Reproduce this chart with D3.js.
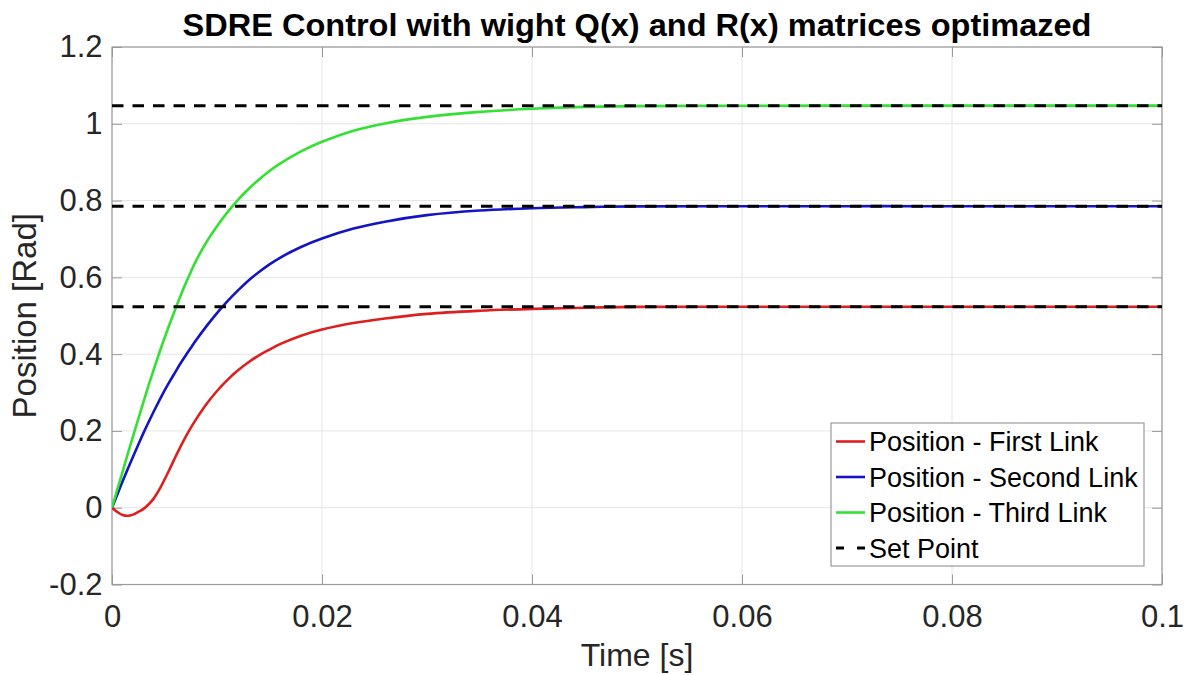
<!DOCTYPE html>
<html>
<head>
<meta charset="utf-8">
<script src="https://cdn.jsdelivr.net/npm/d3@7"></script>
<style>
  body { margin: 0; background: #fff; }
  svg { display: block; font-family: "Liberation Sans", Arial, Helvetica, sans-serif; }
</style>
</head>
<body>
<svg id="chart" width="1192" height="675"></svg>
<script>
// ---- data ----
const time = [0, 0.0005, 0.001, 0.0015, 0.002, 0.0025, 0.003, 0.0035, 0.004, 0.0045, 0.005, 0.0055, 0.006, 0.0065, 0.007, 0.0075, 0.008, 0.009, 0.010, 0.011, 0.012, 0.013, 0.014, 0.015, 0.016, 0.018, 0.020, 0.023, 0.026, 0.030, 0.035, 0.040, 0.045, 0.050, 0.060, 0.070, 0.080, 0.090, 0.100];
const firstLink  = [0, -0.011, -0.019, -0.021, -0.018, -0.011, -0.003, 0.009, 0.025, 0.047, 0.073, 0.101, 0.130, 0.158, 0.184, 0.208, 0.230, 0.270, 0.304, 0.333, 0.358, 0.379, 0.397, 0.412, 0.426, 0.448, 0.464, 0.481, 0.493, 0.505, 0.513, 0.518, 0.521, 0.523, 0.5235, 0.5236, 0.5236, 0.5236, 0.5236];
const secondLink = [0, 0.034, 0.068, 0.101, 0.133, 0.164, 0.195, 0.224, 0.252, 0.279, 0.305, 0.329, 0.352, 0.375, 0.396, 0.416, 0.436, 0.473, 0.507, 0.538, 0.566, 0.592, 0.614, 0.634, 0.651, 0.679, 0.701, 0.727, 0.745, 0.762, 0.774, 0.780, 0.783, 0.785, 0.7853, 0.7854, 0.7854, 0.7854, 0.7854];
const thirdLink  = [0, 0.047, 0.093, 0.140, 0.186, 0.231, 0.276, 0.320, 0.362, 0.403, 0.442, 0.479, 0.515, 0.550, 0.583, 0.614, 0.643, 0.692, 0.733, 0.770, 0.802, 0.830, 0.855, 0.877, 0.896, 0.928, 0.953, 0.982, 1.001, 1.018, 1.031, 1.039, 1.044, 1.046, 1.047, 1.0472, 1.0472, 1.0472, 1.0472];
const setPoints = [0.5236, 0.7854, 1.0472];
const seriesNames = ["Position - First Link", "Position - Second Link", "Position - Third Link"];
const setPointName = "Set Point";
const xTicks = [0, 0.02, 0.04, 0.06, 0.08, 0.1];
const xTickLabels = ["0", "0.02", "0.04", "0.06", "0.08", "0.1"];
const yTicks = [-0.2, 0, 0.2, 0.4, 0.6, 0.8, 1.0, 1.2];
const yTickLabels = ["-0.2", "0", "0.2", "0.4", "0.6", "0.8", "1", "1.2"];
const titleText = "SDRE Control with wight Q(x) and R(x) matrices optimazed";
const xLabelText = "Time [s]";
const yLabelText = "Position [Rad]";

// ---- layout ----
const svg = d3.select("#chart");
const L = 112, R = 1162, T = 47, B = 584.5;
const W = R - L, H = B - T;
const colors = ["#dd1f1f", "#1414c4", "#33e033"];

const x = d3.scaleLinear().domain([0, 0.1]).range([L, R]);
const y = d3.scaleLinear().domain([-0.2, 1.2]).range([B, T]);

svg.append("rect").attr("x", 0).attr("y", 0).attr("width", 1192).attr("height", 675).attr("fill", "#fff");

// grid
const grid = svg.append("g");
grid.selectAll(".vg").data(xTicks).enter().append("line")
  .attr("x1", d => x(d)).attr("x2", d => x(d)).attr("y1", T).attr("y2", B)
  .attr("stroke", "#e5e5e5").attr("stroke-width", 1);
grid.selectAll(".hg").data(yTicks).enter().append("line")
  .attr("x1", L).attr("x2", R).attr("y1", d => y(d)).attr("y2", d => y(d))
  .attr("stroke", "#e5e5e5").attr("stroke-width", 1);

// axes
function styleAxis(g) {
  g.select(".domain").remove();
  g.selectAll(".tick line").attr("stroke", "#9a9a9a").attr("stroke-width", 1);
  g.selectAll(".tick text").attr("fill", "#262626").attr("font-size", 31);
}
const xAxis = d3.axisBottom(x).tickValues(xTicks).tickFormat((d, i) => xTickLabels[i]).tickSize(-10).tickPadding(20);
svg.append("g").attr("transform", `translate(0,${B})`).call(xAxis).call(styleAxis);
const yAxis = d3.axisLeft(y).tickValues(yTicks).tickFormat((d, i) => yTickLabels[i]).tickSize(-10).tickPadding(9.5);
svg.append("g").attr("transform", `translate(${L},0)`).call(yAxis).call(styleAxis);
svg.append("g").attr("transform", `translate(0,${T})`).call(d3.axisTop(x).tickValues(xTicks).tickFormat("").tickSize(-10)).call(styleAxis);
svg.append("g").attr("transform", `translate(${R},0)`).call(d3.axisRight(y).tickValues(yTicks).tickFormat("").tickSize(-10)).call(styleAxis);

// box
svg.append("rect").attr("x", L).attr("y", T).attr("width", W).attr("height", H)
  .attr("fill", "none").attr("stroke", "#9a9a9a").attr("stroke-width", 1.2);

// curves
const line = d3.line().x(d => x(d[0])).y(d => y(d[1])).curve(d3.curveCatmullRom.alpha(0.5));
const allSeries = [firstLink, secondLink, thirdLink];
svg.append("clipPath").attr("id", "clip").append("rect").attr("x", L).attr("y", T).attr("width", W).attr("height", H);
const plot = svg.append("g").attr("clip-path", "url(#clip)");
allSeries.forEach((s, i) => {
  plot.append("path").datum(time.map((t, k) => [t, s[k]]))
    .attr("d", line).attr("fill", "none").attr("stroke", colors[i]).attr("stroke-width", 2.6);
});
// set points (dashed, on top)
plot.selectAll(".sp").data(setPoints).enter().append("line")
  .attr("x1", x(0)).attr("x2", x(0.1)).attr("y1", d => y(d)).attr("y2", d => y(d))
  .attr("stroke", "#000").attr("stroke-width", 3).attr("stroke-dasharray", "11.5,9");

// title and labels
svg.append("text").attr("x", (L + R) / 2).attr("y", 35.5).attr("text-anchor", "middle")
  .attr("font-size", 31).attr("font-weight", "bold").attr("fill", "#000")
  .attr("textLength", 909).attr("lengthAdjust", "spacingAndGlyphs").text(titleText);
svg.append("text").attr("x", (L + R) / 2).attr("y", 666).attr("text-anchor", "middle")
  .attr("font-size", 32).attr("fill", "#262626").text(xLabelText);
svg.append("text").attr("transform", `translate(36,${(T + B) / 2}) rotate(-90)`).attr("text-anchor", "middle")
  .attr("font-size", 33).attr("fill", "#262626").text(yLabelText);

// legend
const lg = svg.append("g");
const lx = 831, ly = 423, lw = 313, lh = 143;
lg.append("rect").attr("x", lx).attr("y", ly).attr("width", lw).attr("height", lh)
  .attr("fill", "#fff").attr("stroke", "#9a9a9a").attr("stroke-width", 1.2);
const legendItems = seriesNames.map((n, i) => ({ name: n, color: colors[i], dash: null }))
  .concat([{ name: setPointName, color: "#000", dash: "8,13" }]);
const rowY = i => ly + 18.5 + i * 35.5;
legendItems.forEach((d, i) => {
  lg.append("line").attr("x1", lx + 5).attr("x2", lx + 34).attr("y1", rowY(i)).attr("y2", rowY(i))
    .attr("stroke", d.color).attr("stroke-width", d.dash ? 3 : 2.6).attr("stroke-dasharray", d.dash);
  lg.append("text").attr("x", lx + 38).attr("y", rowY(i) + 9.5).attr("font-size", 27)
    .attr("fill", "#000").text(d.name);
});
</script>
</body>
</html>
